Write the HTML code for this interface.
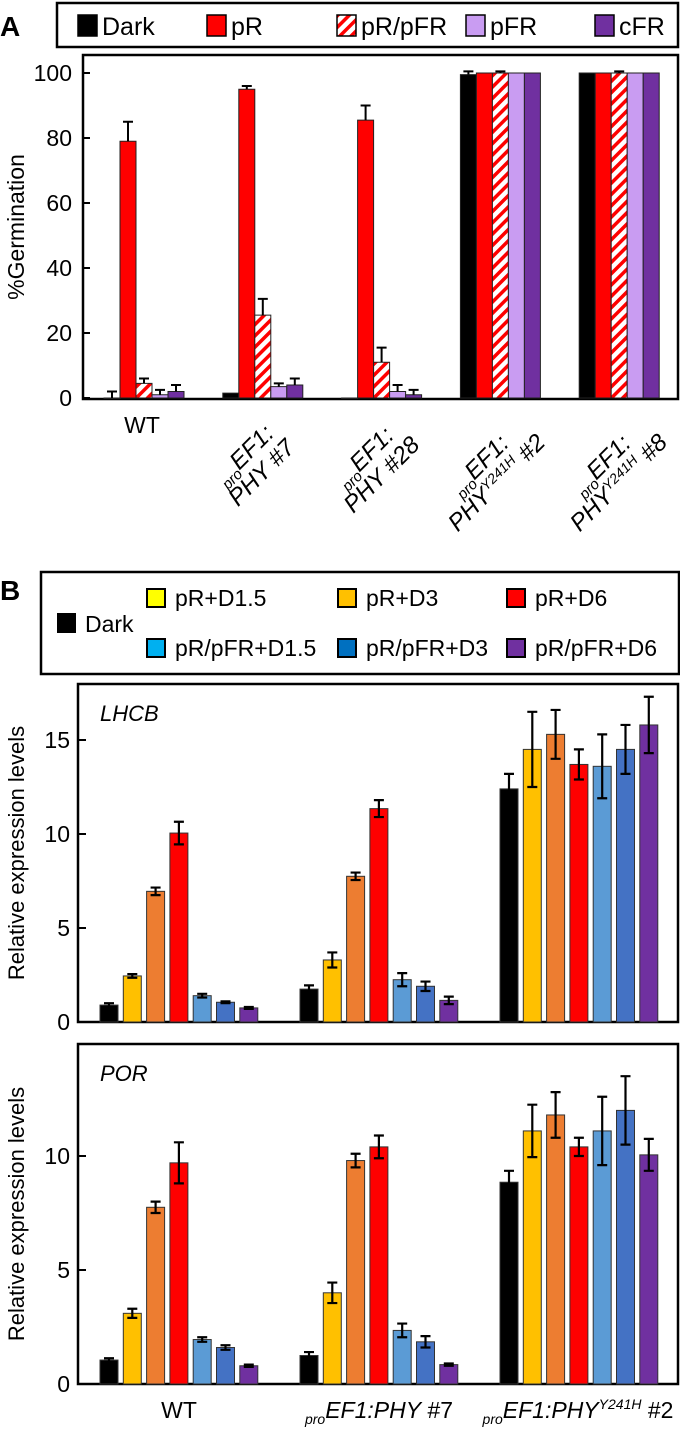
<!DOCTYPE html>
<html><head><meta charset="utf-8">
<style>
html,body{margin:0;padding:0;background:#fff;}
svg{display:block;font-family:"Liberation Sans",Arial,sans-serif;}
</style></head>
<body>
<svg id="fig" width="680" height="1429" viewBox="0 0 680 1429" xmlns="http://www.w3.org/2000/svg">
<defs>
<pattern id="hatch" patternUnits="userSpaceOnUse" width="8" height="8" patternTransform="rotate(-45)">
<rect width="8" height="8" fill="#fff"/><rect width="8" height="3.5" fill="#f00"/>
</pattern>
</defs>
<text x="0" y="36" font-size="28" font-weight="bold">A</text>
<rect x="57" y="3" width="621" height="44" fill="none" stroke="#000" stroke-width="2.5"/>
<g id="legA"></g>
<rect x="83" y="55" width="595" height="344" fill="none" stroke="#000" stroke-width="2.5"/>
<text transform="translate(24,227) rotate(-90)" text-anchor="middle" font-size="23">%Germination</text>
<g id="plotA"></g>
<g id="xlabA"></g>

<text x="0" y="600" font-size="28" font-weight="bold">B</text>
<rect x="41" y="572" width="638" height="102" fill="none" stroke="#000" stroke-width="2.5"/>
<g id="legB"></g>
<rect x="78" y="684" width="600" height="338" fill="none" stroke="#000" stroke-width="2.5"/>
<text x="100" y="721" font-size="22" font-style="italic">LHCB</text>
<text transform="translate(24,853) rotate(-90)" text-anchor="middle" font-size="22">Relative expression levels</text>
<g id="plotL"></g>
<rect x="78" y="1044" width="600" height="340" fill="none" stroke="#000" stroke-width="2.5"/>
<text x="100" y="1081" font-size="22" font-style="italic">POR</text>
<text transform="translate(24,1214) rotate(-90)" text-anchor="middle" font-size="22">Relative expression levels</text>
<g id="plotP"></g>
<text x="179" y="1418" text-anchor="middle" font-size="23">WT</text>
<text x="379" y="1418" text-anchor="middle" font-size="23"><tspan font-size="14" font-style="italic" dy="6">pro</tspan><tspan font-style="italic" dy="-6">EF1:PHY</tspan> #7</text>
<text x="578" y="1418" text-anchor="middle" font-size="23"><tspan font-size="14" font-style="italic" dy="6">pro</tspan><tspan font-style="italic" dy="-6">EF1:PHY</tspan><tspan font-size="14" font-style="italic" dy="-9">Y241H</tspan><tspan dy="9"> #2</tspan></text>
</svg>
<script>
// ---- Panel A data ----
const aGroups = ["WT","PHY #7","PHY #28","PHY Y241H #2","PHY Y241H #8"];
const aSeries = ["Dark","pR","pR/pFR","pFR","cFR"];
const aDark = [0,1.5,0,99.5,100];
const aPR = [79,95,85.5,100,100];
const aPRpFR = [4.5,25.5,11,100,100];
const aPFR = [1,3.5,2,100,100];
const aCFR = [2,4,1,100,100];
const aDarkErr = [2,0,0,1,0];
const aPRErr = [6,1,4.5,0,0];
const aPRpFRErr = [1.5,5,4.5,0.5,0.5];
const aPFRErr = [1.5,1,2,0,0];
const aCFRErr = [2,2,1.5,0,0];
const aTicks = [0,20,40,60,80,100];
// ---- Panel B data ----
const bGroups = ["WT","proEF1:PHY #7","proEF1:PHY Y241H #2"];
const bSeries = ["Dark","pR+D1.5","pR+D3","pR+D6","pR/pFR+D1.5","pR/pFR+D3","pR/pFR+D6"];
const lhcbWT = [0.9,2.45,6.95,10.05,1.4,1.05,0.75];
const lhcbPHY7 = [1.75,3.3,7.75,11.35,2.25,1.9,1.15];
const lhcbY241H = [12.4,14.5,15.3,13.7,13.6,14.5,15.8];
const lhcbErrWT = [0.1,0.1,0.2,0.6,0.1,0.05,0.05];
const lhcbErrPHY7 = [0.2,0.4,0.2,0.45,0.35,0.25,0.2];
const lhcbErrY241H = [0.8,2.0,1.3,0.8,1.7,1.3,1.5];
const porWT = [1.05,3.1,7.75,9.7,1.95,1.6,0.8];
const porPHY7 = [1.25,4.0,9.8,10.4,2.35,1.85,0.85];
const porY241H = [8.85,11.1,11.8,10.4,11.1,12.0,10.05];
const porErrWT = [0.08,0.2,0.25,0.9,0.1,0.1,0.05];
const porErrPHY7 = [0.15,0.45,0.3,0.5,0.3,0.25,0.05];
const porErrY241H = [0.5,1.15,1.0,0.4,1.5,1.5,0.7];
const lhcbTicks = [0,5,10,15];
const porTicks = [0,5,10];

const NS="http://www.w3.org/2000/svg";
function mk(tag,attrs,parent){const e=document.createElementNS(NS,tag);for(const k in attrs)e.setAttribute(k,attrs[k]);parent.appendChild(e);return e;}

// Panel A
const gA=document.getElementById('plotA');
const yA=v=>398-v*3.25;
const xA=(g,s)=>104+g*118.8+s*16;
const aVals=[aDark,aPR,aPRpFR,aPFR,aCFR];
const aErrs=[aDarkErr,aPRErr,aPRpFRErr,aPFRErr,aCFRErr];
const aFill=["#000","#ff0000","url(#hatch)","#c99cf2","#7030a0"];
aTicks.forEach(t=>{
  const tk=mk('line',{x1:83,x2:90,y1:yA(t),y2:yA(t),stroke:'#000','stroke-width':2},gA);
  
  
  const tl=mk('text',{x:72,y:yA(t)+8,'text-anchor':'end','font-size':23},gA);
  tl.textContent=t;
  
  
});
aVals.forEach((arr,s)=>{arr.forEach((v,g)=>{
  const x=xA(g,s),y=yA(v),h=yA(0)-y;
  const r=mk('rect',{x:x,y:y,width:16,height:Math.max(h,0.5),fill:aFill[s],stroke:'#222','stroke-width':1},gA);
  
  
  const e=aErrs[s][g];
  if(e>0){
    const ye=yA(v+e);
    const l=mk('path',{d:`M${x+8} ${y}V${ye}M${x+3} ${ye}H${x+13}`,stroke:'#000','stroke-width':2,fill:'none'},gA);
    
    
  }
});});
// Legend A
const gLA=document.getElementById('legA');
const legAx=[78,207,337,466,595];
aSeries.forEach((n,i)=>{
  const r=mk('rect',{x:legAx[i],y:15,width:19,height:21,fill:aFill[i],stroke:'#000','stroke-width':1.5},gLA);
  
  
  const t=mk('text',{x:legAx[i]+24,y:35,'font-size':25},gLA);
  t.textContent=n;
  
  
});
// X labels A
const gXA=document.getElementById('xlabA');
const wt=mk('text',{x:142,y:433,'text-anchor':'middle','font-size':23},gXA);
wt.textContent="WT";


const rotCenters=[[253,464,"PHY"," #7",""],[373,466,"PHY"," #28",""],[488,474,"PHY"," #2","Y241H"],[610,474,"PHY"," #8","Y241H"]];
rotCenters.forEach((c,i)=>{
  const g=mk('g',{transform:`translate(${c[0]},${c[1]}) rotate(-45)`},gXA);
  
  
  const t1=mk('text',{x:0,y:-5,'text-anchor':'middle','font-size':24,'font-style':'italic'},g);
  t1.innerHTML='<tspan font-size="15" dy="6">pro</tspan><tspan dy="-6">EF1:</tspan>';
  const t2=mk('text',{x:0,y:20,'text-anchor':'middle','font-size':24,'font-style':'italic'},g);
  t2.innerHTML='<tspan>'+c[2]+'</tspan>'+(c[4]?'<tspan font-size="14" dy="-9">'+c[4]+'</tspan><tspan dy="9">'+c[3]+'</tspan>':'<tspan>'+c[3]+'</tspan>');
});

// Legend B
const gLB=document.getElementById('legB');
const legBFill=["#ffff00","#ffc000","#ff0000","#00b0f0","#0070c0","#7030a0"];
const legBx=[147,338,507];
let d=mk('rect',{x:57,y:613,width:19,height:20,fill:'#000'},gLB);


let dt=mk('text',{x:85,y:632,'font-size':23},gLB);
dt.textContent="Dark";


bSeries.slice(1).forEach((n,i)=>{
  const x=legBx[i%3],y=i<3?589:639;
  const r=mk('rect',{x:x,y:y,width:18,height:18,fill:legBFill[i],stroke:'#000','stroke-width':2},gLB);
  
  
  const t=mk('text',{x:x+28,y:y+17,'font-size':23},gLB);
  t.textContent=n;
  
  
});

const bFill=["#000","#ffc000","#ed7d31","#ff0000","#5b9bd5","#4472c4","#7030a0"];
function drawB(gid,base,pxPerUnit,ticks,vals,errs,tag){
  const g=document.getElementById(gid);
  const y=v=>base-v*pxPerUnit;
  ticks.forEach(t=>{
    const tk=mk('line',{x1:78,x2:86,y1:y(t),y2:y(t),stroke:'#000','stroke-width':2},g);
    
    
    const tl=mk('text',{x:70,y:y(t)+8,'text-anchor':'end','font-size':23},g);
    tl.textContent=t;
    
    
  });
  vals.forEach((arr,gi)=>{arr.forEach((v,s)=>{
    const x=100+gi*200+s*23.3, yt=y(v);
    const r=mk('rect',{x:x,y:yt,width:18,height:base-yt,fill:bFill[s],stroke:'#333','stroke-width':1},g);
    
    
    const e=errs[gi][s];
    const y1=y(v+e),y2=y(v-e);
    const l=mk('path',{d:`M${x+9} ${y1}V${y2}M${x+4} ${y1}H${x+14}M${x+4} ${y2}H${x+14}`,stroke:'#000','stroke-width':2.2,fill:'none'},g);
    
    
  });});
}
drawB('plotL',1022,18.8,lhcbTicks,[lhcbWT,lhcbPHY7,lhcbY241H],[lhcbErrWT,lhcbErrPHY7,lhcbErrY241H],'lhcb');
drawB('plotP',1384,22.8,porTicks,[porWT,porPHY7,porY241H],[porErrWT,porErrPHY7,porErrY241H],'por');
</script>
</body></html>
